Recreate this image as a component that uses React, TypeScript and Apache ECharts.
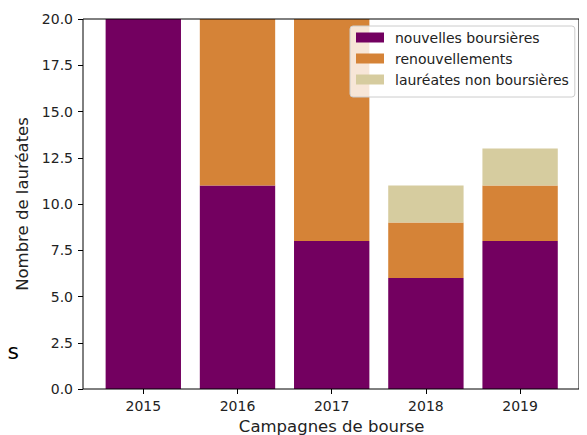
import React, { useEffect, useRef } from "react";
import * as echarts from "echarts";

const years = ["2015", "2016", "2017", "2018", "2019"];
const nouvelles = [25, 11, 8, 6, 8];
const renouvellements = [0, 12, 15, 3, 3];
const nonBoursieres = [0, 0, 0, 2, 2];
const seriesNames = ["nouvelles boursières", "renouvellements", "lauréates non boursières"];
const colors = ["#730060", "#d58337", "#d6cc9f"];

const FONT = "DejaVu Sans";

export default function App() {
  const ref = useRef<HTMLDivElement>(null);
  useEffect(() => {
    if (!ref.current) return;
    const chart = echarts.init(ref.current, null, { renderer: "svg" });
    const dataArrays = [nouvelles, renouvellements, nonBoursieres];
    chart.setOption({
      animation: false,
      backgroundColor: "#fff",
      textStyle: { fontFamily: FONT },
      grid: [
        {
          left: 83, top: 19, width: 496, height: 370,
          show: true, borderColor: "#000", borderWidth: 1,
          backgroundColor: "transparent", z: 10,
          containLabel: false, outerBoundsMode: "none",
        },
        {
          left: 96.2, top: 19, width: 471, height: 370,
          containLabel: false, outerBoundsMode: "none",
        },
      ],
      xAxis: [
        { gridIndex: 0, type: "value", min: 0, max: 1, show: false },
        {
          gridIndex: 1, type: "category", data: years,
          axisLine: { show: false },
          axisTick: { show: true, alignWithLabel: true, length: 5, lineStyle: { color: "#000" } },
          axisLabel: { color: "#222", fontSize: 14, margin: 10, fontFamily: FONT },
          name: "Campagnes de bourse", nameLocation: "middle", nameGap: 29,
          nameTextStyle: { color: "#222", fontSize: 16.5, fontFamily: FONT },
        },
      ],
      yAxis: [
        {
          gridIndex: 0, type: "value", min: 0, max: 20, interval: 2.5,
          axisLine: { show: false },
          axisTick: { show: true, length: 5, lineStyle: { color: "#000" } },
          axisLabel: { color: "#222", fontSize: 14, margin: 10, fontFamily: FONT, formatter: (v: number) => v.toFixed(1) },
          splitLine: { show: false },
          name: "Nombre de lauréates", nameLocation: "middle", nameGap: 50,
          nameTextStyle: { color: "#222", fontSize: 16.5, fontFamily: FONT },
        },
        { gridIndex: 1, type: "value", min: 0, max: 20, show: false, splitLine: { show: false } },
      ],
      legend: {
        orient: "vertical", left: 350, top: 26,
        data: seriesNames,
        itemWidth: 28, itemHeight: 10, itemGap: 4,
        icon: "rect",
        backgroundColor: "rgba(255,255,255,0.8)",
        borderColor: "#cccccc", borderWidth: 1, borderRadius: 3,
        padding: [3, 6, 9, 6],
        textStyle: { color: "#222", fontSize: 14, fontFamily: FONT, lineHeight: 17, padding: [0, 0, 0, 6] },
        z: 20,
      },
      series: seriesNames.map((name, i) => ({
        name, type: "bar", stack: "total",
        xAxisIndex: 1, yAxisIndex: 1,
        barCategoryGap: "20%",
        itemStyle: { color: colors[i] },
        data: dataArrays[i],
      })),
      graphic: [
        {
          type: "text", x: 19, y: 351,
          style: { text: "es", fontSize: 22, fontFamily: FONT, fill: "#000", align: "right", verticalAlign: "middle" },
        },
      ],
    });
    return () => chart.dispose();
  }, []);
  return <div ref={ref} style={{ width: 587, height: 435, marginLeft: -8, marginTop: -8 }} />;
}
